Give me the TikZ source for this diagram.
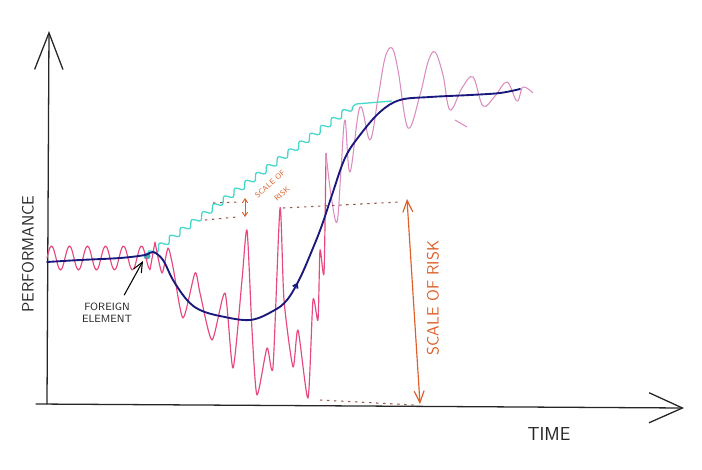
\documentclass[tikz,border=0pt]{standalone}
\usepackage{xcolor}
\usepackage{tikz}
\usetikzlibrary{arrows.meta,decorations.pathmorphing,decorations.markings,positioning}

\definecolor{navyline}{RGB}{25,25,125}
\definecolor{pinkline}{RGB}{232,72,130}
\definecolor{mauveline}{RGB}{218,140,192}
\definecolor{cyanline}{RGB}{70,215,205}
\definecolor{riskorange}{RGB}{222,95,40}
\definecolor{riskbrown}{RGB}{150,85,75}

\tikzset{
  sketch axis/.style={line width=1.1pt, black!85, line cap=round},
  sketch label/.style={font=\sffamily, black!85},
  trend line/.style={line width=1.6pt, navyline, line cap=round},
  noise line/.style={line width=1pt, pinkline, line join=round},
  fading noise line/.style={line width=0.9pt, mauveline, line join=round},
  hope line/.style={line width=1.1pt, cyanline,
    decorate, decoration={snake, segment length=4mm, amplitude=0.9mm}},
  risk line/.style={line width=1pt, riskorange},
  risk guide/.style={line width=0.9pt, riskbrown, dash pattern=on 2pt off 4pt},
  small risk/.style={font=\sffamily\fontsize{6.5}{6.5}\selectfont, text=riskorange,
    rotate=42, inner sep=0.5pt}
}

\begin{document}
\begin{tikzpicture}[x=0.03cm, y=-0.03cm]
\useasboundingbox (0,0) rectangle (702,469);

% Axes
\coordinate (origin) at (47,404);
\coordinate (ytip) at (49,31);
\coordinate (xstart) at (36,404);
\coordinate (xtip) at (684,408);
\draw[sketch axis, -{Straight Barb[length=11mm, width=8.5mm]}] (origin) -- (ytip);
\draw[sketch axis, -{Straight Barb[length=10mm, width=9mm]}] (xstart) -- (xtip);
\node[sketch label, rotate=90, font=\sffamily\fontsize{14}{14}\selectfont] (perf) at (28,254) {PERFORMANCE};
\node[sketch label, font=\sffamily\fontsize{16}{16}\selectfont] (time) at (549,434) {TIME};

% Hoped-for path
\draw[hope line] (147,256) -- (356,104);
\draw[line width=1.1pt, cyanline] (356,104) -- (392,101);
\fill[cyanline!80!navyline] (147,256) circle (3.5);

% Noisy performance
\draw[noise line] plot[domain=47:150, samples=70, smooth] (\x,{258-12*sin(20*(\x-47))})
  -- plot[smooth, tension=0.4] coordinates {(155,242) (162,273) (168,248) (173,267)
  (183,318) (195,273) (200,293) (212,340) (225,293) (233,368) (242,280) (247,230)
  (252,330) (257,395) (267,348) (273,367) (280,208) (284,300) (293,367) (298,330)
  (308,398) (313,300) (318,320) (320,250) (324,273) (326,153)};
\draw[fading noise line] plot[smooth, tension=0.6] coordinates {(326,153) (331,195)
  (337,222) (341,170) (345,120) (350,172) (360,107) (370,140) (378,98) (385,58)
  (392,48) (398,70) (408,128) (420,95) (428,62) (435,52) (443,75) (450,110)
  (462,88) (473,77) (483,106) (495,96) (507,82) (517,101) (523,87) (533,93)};
\draw[fading noise line] (455,120) -- (467,127);

% Actual trend
\draw[trend line, postaction={decorate}, decoration={markings,
    mark=at position 0.47 with {\arrow{Straight Barb[length=1.1mm, width=1.6mm]}}}]
  plot[smooth, tension=0.6] coordinates {(47,262) (80,260) (120,258) (145,255)
  (153,252) (163,260) (173,280) (187,300) (200,310) (220,316) (250,320) (273,311)
  (287,300) (300,278) (313,248) (322,225) (332,195) (345,158) (360,135) (380,112)
  (400,100) (430,97) (470,95) (500,93) (520,89)};

% Foreign element
\node[sketch label, font=\sffamily\fontsize{9}{10}\selectfont, align=center] (foreign) at (107,313) {FOREIGN\\ELEMENT};
\coordinate (fe) at (143,261);
\draw[line width=0.9pt, black, -{Straight Barb[length=3mm, width=2.6mm]}] (foreign.north east) ++(-12,-4) coordinate (festart) (festart) -- (fe);

% Scale of risk
\coordinate (smalltop) at (245,198);
\coordinate (smallbot) at (245,217);
\draw[risk guide] (213,203) -- (240,202);
\draw[risk guide] (205,220) -- (237,217);
\draw[line width=0.8pt, riskorange, {Straight Barb[length=1.2mm, width=1.6mm]}-{Straight Barb[length=1.2mm, width=1.6mm]}] (smallbot) -- (smalltop);
\node[small risk] (smallscale) at (270,184) {SCALE OF};
\node[small risk] (smallrisk) at (282,194) {RISK};

\coordinate (risktop) at (407,199);
\coordinate (riskbot) at (420,404);
\draw[risk guide] (283,208) -- (400,202);
\draw[risk guide] (320,400) -- (414,405);
\draw[risk line, {Straight Barb[length=3.5mm, width=3mm]}-{Straight Barb[length=3.5mm, width=3mm]}] (riskbot) -- (risktop);
\node[font=\sffamily\fontsize{14}{14}\selectfont, text=riskorange, rotate=90] (bigrisk) at (433,298) {SCALE OF RISK};

\end{tikzpicture}
\end{document}
